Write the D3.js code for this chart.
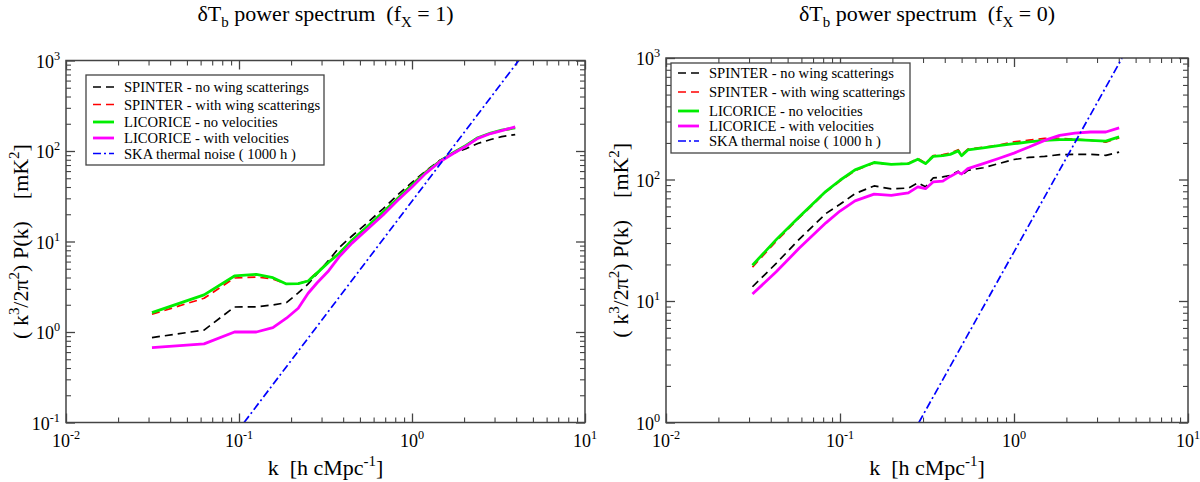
<!DOCTYPE html>
<html>
<head>
<meta charset="utf-8">
<script src="https://d3js.org/d3.v7.min.js"></script>
<style>
  body { margin: 0; background: #fff; }
  svg, svg text, svg tspan { font-family: "Liberation Serif", "Times New Roman", serif; }
  text { fill: #000; white-space: pre; }
</style>
</head>
<body>
<svg id="chart" width="1200" height="482" font-family="Liberation Serif"></svg>
<script>
// ---- data ----
const seriesNames = ["SPINTER - no wing scatterings", "SPINTER - with wing scatterings",
                     "LICORICE - no velocities", "LICORICE - with velocities",
                     "SKA thermal noise ( 1000 h )"];

// left panel, f_X = 1
const kLeft = [0.0314, 0.0628, 0.0942, 0.126, 0.157, 0.188, 0.22, 0.251, 0.283, 0.33, 0.38, 0.45,
               0.55, 0.68, 0.83, 1.0, 1.2, 1.45, 1.75, 2.05, 2.4, 2.85, 3.3, 3.95];
const leftSpinterNoWing = [0.867, 1.05, 1.89, 1.9, 1.99, 2.11, 2.7, 3.4, 4.4, 6.2, 8.6, 11.5,
                           16, 23, 33, 45, 60, 79, 95, 106, 121, 134, 144, 152];
const leftSpinterWing = [1.57, 2.36, 3.95, 4.05, 3.85, 3.38, 3.42, 3.7, 4.6, 6.0, 7.5, 10.4,
                         14.6, 21.3, 30.5, 43, 59, 78, 98, 115, 139, 157, 168, 178];
const leftLicoNoVel = [1.64, 2.57, 4.16, 4.34, 3.98, 3.40, 3.42, 3.66, 4.5, 5.9, 7.4, 10.3,
                       14.5, 21, 30, 42, 58, 77, 97, 115, 140, 158, 170, 180];
const leftLicoVel = [0.673, 0.74, 1.0, 1.0, 1.12, 1.42, 1.83, 2.68, 3.5, 4.76, 6.8, 9.6,
                     13.6, 19.6, 28.7, 40, 56.6, 76, 95, 113, 138, 156, 168, 185];
const kNoiseLeft = [0.107, 4.14];
const noiseLeft = [0.1, 1000];

// right panel, f_X = 0
const kRight = [0.0314, 0.043, 0.058, 0.083, 0.1, 0.122, 0.157, 0.197, 0.247, 0.28, 0.31, 0.343,
                0.39, 0.43, 0.478, 0.5, 0.543, 0.666, 0.815, 1.0, 1.22, 1.5, 1.83, 2.24, 2.75, 3.37, 4.02];
const rightSpinterNoWing = [13.1, 20.4, 32, 52.5, 62.5, 76.5, 88.5, 83.7, 85, 93.7, 87, 103,
                            105, 108, 117, 108, 119, 125, 135, 146, 152, 155, 160, 161, 161, 158, 168];
const rightSpinterWing = [19, 31, 48, 79, 97, 118, 137, 133, 136, 149, 137, 157,
                          160, 165, 176, 160, 178, 184, 192, 204, 211, 218, 218, 215, 210, 203, 220];
const rightLicoNoVel = [19.7, 32, 49, 80, 98.6, 120, 138, 133, 135, 147, 135, 155,
                        157, 161, 172, 157, 175, 182, 190, 197, 204, 210, 213, 213, 210, 207, 224];
const rightLicoVel = [11.4, 17.4, 27, 44, 55, 66.7, 75.7, 74, 77.6, 87, 84, 95.5,
                      97, 106, 115, 111, 123, 135, 149, 165, 185, 210, 231, 241, 246, 246, 266];
const kNoiseRight = [0.284, 4.18];
const noiseRight = [1, 1000];

const xDecades = [-2, -1, 0, 1];
const yDecadesLeft = [-1, 0, 1, 2, 3];
const yDecadesRight = [0, 1, 2, 3];

const styles = [
  {color: "#000000", width: 1.7, dash: "8,5"},
  {color: "#ff0000", width: 1.7, dash: "8,5"},
  {color: "#00ee00", width: 2.8, dash: null},
  {color: "#ff00ff", width: 2.8, dash: null},
  {color: "#0000ff", width: 1.7, dash: "8,3,2,3"}
];

const FONT = "Liberation Serif";
const svg = d3.select("#chart");

function richText(g, x, y, parts, opts) {
  const t = g.append("text").attr("x", x).attr("y", y)
    .attr("font-family", FONT)
    .attr("font-size", opts.size).attr("text-anchor", opts.anchor || "start");
  if (opts.transform) t.attr("transform", opts.transform);
  let offset = 0; // px
  parts.forEach(([txt, kind]) => {
    const ts = t.append("tspan").attr("font-family", FONT).text(txt);
    let target = 0;
    if (kind === "sup") { ts.attr("font-size", opts.size * 0.68); target = -opts.size * 0.42; }
    if (kind === "sub") { ts.attr("font-size", opts.size * 0.68); target = opts.size * 0.25; }
    ts.attr("dy", target - offset);
    offset = target;
  });
  return t;
}

function drawPanel(cfg) {
  const x = d3.scaleLog().domain([0.01, 10]).range([cfg.x0, cfg.x1]);
  const y = d3.scaleLog().domain(cfg.yDomain).range([cfg.y1, cfg.y0]);
  const g = svg.append("g");
  const clipId = "clip" + cfg.id;
  svg.append("clipPath").attr("id", clipId).append("rect")
    .attr("x", cfg.x0).attr("y", cfg.y0).attr("width", cfg.x1 - cfg.x0).attr("height", cfg.y1 - cfg.y0);

  // ticks, inward on all four sides
  const xMajor = xDecades.map(e => Math.pow(10, e));
  const xMinor = [];
  xDecades.slice(0, -1).forEach(e => { for (let m = 2; m <= 9; m++) xMinor.push(m * Math.pow(10, e)); });
  const yMajor = cfg.yDecades.map(e => Math.pow(10, e));
  const yMinor = [];
  cfg.yDecades.slice(0, -1).forEach(e => { for (let m = 2; m <= 9; m++) yMinor.push(m * Math.pow(10, e)); });

  const sides = [
    [() => d3.axisBottom(x), `translate(0,${cfg.y1})`, xMajor, xMinor],
    [() => d3.axisTop(x), `translate(0,${cfg.y0})`, xMajor, xMinor],
    [() => d3.axisLeft(y), `translate(${cfg.x0},0)`, yMajor, yMinor],
    [() => d3.axisRight(y), `translate(${cfg.x1},0)`, yMajor, yMinor]
  ];
  sides.forEach(([mk, tr, maj, min]) => {
    g.append("g").attr("transform", tr)
      .call(mk().tickValues(maj).tickSize(-9).tickFormat(""))
      .call(s => s.select(".domain").remove())
      .selectAll("line").attr("stroke", "#444").attr("stroke-width", 1.3);
    g.append("g").attr("transform", tr)
      .call(mk().tickValues(min).tickSize(-5).tickFormat(""))
      .call(s => s.select(".domain").remove())
      .selectAll("line").attr("stroke", "#444").attr("stroke-width", 1.1);
  });

  // tick labels
  xDecades.forEach(e => {
    richText(g, x(Math.pow(10, e)), cfg.y1 + 24, [["10", null], [String(e), "sup"]], {size: 18, anchor: "middle"});
  });
  cfg.yDecades.forEach(e => {
    richText(g, cfg.x0 - 6, y(Math.pow(10, e)) + 7, [["10", null], [String(e), "sup"]], {size: 18, anchor: "end"});
  });

  // series
  const line = d3.line().x(d => x(d[0])).y(d => y(d[1]));
  const lines = g.append("g").attr("clip-path", `url(#${clipId})`);
  cfg.series.forEach((vals, i) => {
    const ks = i === 4 ? cfg.kNoise : cfg.k;
    lines.append("path").datum(ks.map((k, j) => [k, vals[j]]))
      .attr("d", line).attr("fill", "none")
      .attr("stroke", styles[i].color).attr("stroke-width", styles[i].width)
      .attr("stroke-dasharray", styles[i].dash).attr("stroke-linejoin", "round");
  });

  // frame
  g.append("rect").attr("x", cfg.x0).attr("y", cfg.y0)
    .attr("width", cfg.x1 - cfg.x0).attr("height", cfg.y1 - cfg.y0)
    .attr("fill", "none").attr("stroke", "#444").attr("stroke-width", 1.5);

  // legend
  const L = cfg.legend;
  const lg = g.append("g");
  lg.append("rect").attr("x", L.x).attr("y", L.y).attr("width", L.w).attr("height", L.h)
    .attr("fill", "#fff").attr("stroke", "#444").attr("stroke-width", 1.3);
  seriesNames.forEach((name, i) => {
    const yy = L.rows[i];
    lg.append("line").attr("x1", L.x + 7).attr("x2", L.x + 28).attr("y1", yy - 5).attr("y2", yy - 5)
      .attr("stroke", styles[i].color).attr("stroke-width", styles[i].width)
      .attr("stroke-dasharray", styles[i].dash);
    lg.append("text").attr("x", L.x + 38).attr("y", yy)
      .attr("font-family", FONT).attr("font-size", 14.6).text(name);
  });

  // titles
  const cx = (cfg.x0 + cfg.x1) / 2;
  richText(g, cx, 21, [["δT", null], ["b", "sub"], [" power spectrum  (f", null], ["X", "sub"], [" = " + cfg.fx + ")", null]],
    {size: 22, anchor: "middle"});
  richText(g, cx, 475, [["k  [h cMpc", null], ["-1", "sup"], ["]", null]], {size: 22, anchor: "middle"});
  const cy = (cfg.y0 + cfg.y1) / 2;
  richText(g, 0, 0, [["( k", null], ["3", "sup"], ["/2π", null], ["2", "sup"], [") P(k)    [mK", null], ["2", "sup"], ["]", null]],
    {size: 22, anchor: "middle", transform: `translate(${cfg.ylabX},${cy}) rotate(-90)`});
}

drawPanel({
  id: "L", x0: 66, x1: 585, y0: 60.5, y1: 422.5, yDomain: [0.1, 1000], yDecades: yDecadesLeft,
  k: kLeft, kNoise: kNoiseLeft, fx: 1, ylabX: 28,
  series: [leftSpinterNoWing, leftSpinterWing, leftLicoNoVel, leftLicoVel, noiseLeft],
  legend: {x: 86, y: 75, w: 238, h: 90, rows: [92, 109.5, 127, 143, 158.5]}
});
drawPanel({
  id: "R", x0: 666, x1: 1188, y0: 58, y1: 422.5, yDomain: [1, 1000], yDecades: yDecadesRight,
  k: kRight, kNoise: kNoiseRight, fx: 0, ylabX: 628,
  series: [rightSpinterNoWing, rightSpinterWing, rightLicoNoVel, rightLicoVel, noiseRight],
  legend: {x: 671, y: 63, w: 239, h: 90, rows: [78, 97, 116, 131, 146]}
});
</script>
</body>
</html>
